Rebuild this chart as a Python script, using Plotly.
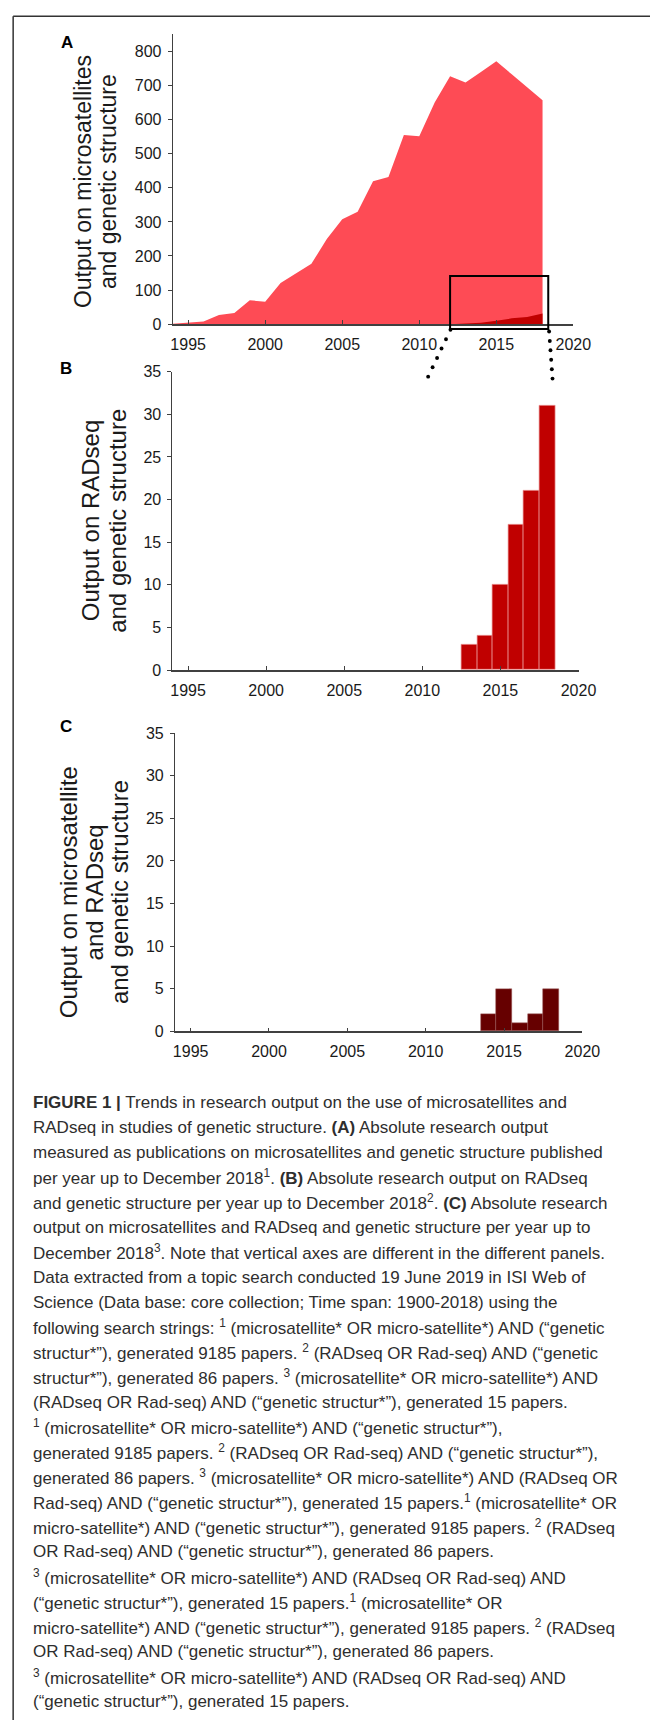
import plotly.graph_objects as go

# ---------------- data ----------------
years = list(range(1994, 2019))
microsat_output = [1, 5, 8, 27, 33, 70, 66, 121, 148, 177, 250, 308, 330,
                   419, 432, 555, 551, 650, 727, 709, 740, 771, 733, 695, 657]

rad_years = [2013, 2014, 2015, 2016, 2017, 2018]
rad_output = [3, 4, 10, 17, 21, 31]

both_years = [2014, 2015, 2016, 2017, 2018]
both_output = [2, 5, 1, 2, 5]

x_ticks = [1995, 2000, 2005, 2010, 2015, 2020]
a_yticks = [0, 100, 200, 300, 400, 500, 600, 700, 800]
bc_yticks = [0, 5, 10, 15, 20, 25, 30, 35]

caption_lines = [
    "<b>FIGURE 1 |</b> Trends in research output on the use of microsatellites and",
    "RADseq in studies of genetic structure. <b>(A)</b> Absolute research output",
    "measured as publications on microsatellites and genetic structure published",
    "per year up to December 2018<sup>1</sup>. <b>(B)</b> Absolute research output on RADseq",
    "and genetic structure per year up to December 2018<sup>2</sup>. <b>(C)</b> Absolute research",
    "output on microsatellites and RADseq and genetic structure per year up to",
    "December 2018<sup>3</sup>. Note that vertical axes are different in the different panels.",
    "Data extracted from a topic search conducted 19 June 2019 in ISI Web of",
    "Science (Data base: core collection; Time span: 1900-2018) using the",
    "following search strings: <sup>1</sup> (microsatellite* OR micro-satellite*) AND (“genetic",
    "structur*”), generated 9185 papers. <sup>2</sup> (RADseq OR Rad-seq) AND (“genetic",
    "structur*”), generated 86 papers. <sup>3</sup> (microsatellite* OR micro-satellite*) AND",
    "(RADseq OR Rad-seq) AND (“genetic structur*”), generated 15 papers.",
    "<sup>1</sup> (microsatellite* OR micro-satellite*) AND (“genetic structur*”),",
    "generated 9185 papers. <sup>2</sup> (RADseq OR Rad-seq) AND (“genetic structur*”),",
    "generated 86 papers. <sup>3</sup> (microsatellite* OR micro-satellite*) AND (RADseq OR",
    "Rad-seq) AND (“genetic structur*”), generated 15 papers.<sup>1</sup> (microsatellite* OR",
    "micro-satellite*) AND (“genetic structur*”), generated 9185 papers. <sup>2</sup> (RADseq",
    "OR Rad-seq) AND (“genetic structur*”), generated 86 papers.",
    "<sup>3</sup> (microsatellite* OR micro-satellite*) AND (RADseq OR Rad-seq) AND",
    "(“genetic structur*”), generated 15 papers.<sup>1</sup> (microsatellite* OR",
    "micro-satellite*) AND (“genetic structur*”), generated 9185 papers. <sup>2</sup> (RADseq",
    "OR Rad-seq) AND (“genetic structur*”), generated 86 papers.",
    "<sup>3</sup> (microsatellite* OR micro-satellite*) AND (RADseq OR Rad-seq) AND",
    "(“genetic structur*”), generated 15 papers.",
]

# ---------------- page geometry ----------------
W, H = 668, 1729


def xp(px):
    return px / W


def yp(py):
    return 1 - py / H


# panel boxes in page pixels: (left, right, top, bottom)
box_a = (176, 589, 26.7, 319.3)
box_b = (175.7, 594.3, 367.3, 668.7)
box_c = (178.3, 598.3, 732.3, 1033.5)
x_range = [1994, 2020]
a_range = [0, 850]
bc_range = [0, 35]

LIGHT_RED = "#FE4B55"
DARK_RED = "#C00000"
MAROON = "#660000"
AXIS = "#404040"
TEXT = "#1a1a1a"
FONT = "Liberation Sans, Arial, sans-serif"

fig = go.Figure()

# Panel A: area charts
fig.add_trace(go.Scatter(
    x=years, y=microsat_output, fill="tozeroy", mode="lines",
    line=dict(width=0, color=LIGHT_RED), fillcolor=LIGHT_RED,
    xaxis="x", yaxis="y", showlegend=False, hoverinfo="skip"))
rad_lookup = dict(zip(rad_years, rad_output))
rad_full = [rad_lookup.get(y, 0) for y in years]
fig.add_trace(go.Scatter(
    x=years[18:], y=rad_full[18:], fill="tozeroy", mode="lines",
    line=dict(width=0, color=DARK_RED), fillcolor=DARK_RED,
    xaxis="x", yaxis="y", showlegend=False, hoverinfo="skip"))

# Panel B: RADseq bars
fig.add_trace(go.Bar(
    x=rad_years, y=rad_output, width=1, marker_color=DARK_RED,
    marker_line=dict(color="#EC9A9A", width=0.7),
    xaxis="x2", yaxis="y2", showlegend=False))

# Panel C: microsatellite + RADseq bars
fig.add_trace(go.Bar(
    x=both_years, y=both_output, width=1, marker_color=MAROON,
    marker_line=dict(color="#9A5A5A", width=0.5),
    xaxis="x3", yaxis="y3", showlegend=False))


def xaxis_cfg(box):
    return dict(
        domain=[xp(box[0]), xp(box[1])], range=x_range,
        tickvals=x_ticks, ticks="inside", ticklen=4, tickwidth=1,
        tickcolor=AXIS, showline=True, linecolor=AXIS, linewidth=1.6,
        showgrid=False, zeroline=False, ticklabelstandoff=5,
        tickfont=dict(family=FONT, size=16, color=TEXT), fixedrange=True)


def yaxis_cfg(box, rng, vals, anchor):
    return dict(
        domain=[yp(box[3]), yp(box[2])], range=rng, anchor=anchor,
        tickvals=vals, ticks="outside", ticklen=4, tickwidth=1,
        tickcolor=AXIS, showline=True, linecolor=AXIS, linewidth=1,
        showgrid=False, zeroline=False, ticklabelstandoff=3,
        tickfont=dict(family=FONT, size=16, color=TEXT), fixedrange=True)


layout = dict(
    width=W, height=H, autosize=False,
    margin=dict(l=0, r=0, t=0, b=0),
    paper_bgcolor="white", plot_bgcolor="rgba(0,0,0,0)",
    bargap=0, barmode="overlay",
    xaxis=dict(xaxis_cfg(box_a), anchor="y"),
    yaxis=yaxis_cfg(box_a, a_range, a_yticks, "x"),
    xaxis2=dict(xaxis_cfg(box_b), anchor="y2"),
    yaxis2=yaxis_cfg(box_b, bc_range, bc_yticks, "x2"),
    xaxis3=dict(xaxis_cfg(box_c), anchor="y3"),
    yaxis3=yaxis_cfg(box_c, bc_range, bc_yticks, "x3"),
)
fig.update_layout(**layout)

annotations = []
shapes = []

# panel letters
for letter, (px, py) in {"A": (66.7, 35), "B": (66, 364), "C": (66, 726)}.items():
    annotations.append(dict(
        text=f"<b>{letter}</b>", x=xp(px), y=yp(py), xref="paper", yref="paper",
        xanchor="center", yanchor="middle", showarrow=False,
        font=dict(family=FONT, size=17, color="black")))

# rotated y-axis titles, one annotation per line
titles = [
    (["Output on microsatellites", "and genetic structure"], [83.3, 110], 175, 23),
    (["Output on RADseq", "and genetic structure"], [92, 119.5], 518, 24),
    (["Output on microsatellite", "and RADseq", "and genetic structure"],
     [68, 95, 120.5], 893, 24),
]
for lines, xs, yc, size in titles:
    for line, lx in zip(lines, xs):
        annotations.append(dict(
            text=line, x=xp(lx), y=yp(yc), xref="paper", yref="paper",
            xanchor="center", yanchor="middle", textangle=-90, showarrow=False,
            font=dict(family=FONT, size=size, color=TEXT)))


# zoom box on panel A (data coordinates mapped into page pixels)
def a_px(year, value):
    left, right, top, bottom = box_a
    px = left + (year - x_range[0]) * (right - left) / (x_range[1] - x_range[0])
    py = bottom - (value - a_range[0]) * (bottom - top) / (a_range[1] - a_range[0])
    return px, py


bx0, by0 = a_px(2012, 141)
bx1, by1 = a_px(2018.37, -14.5)
shapes.append(dict(type="rect", xref="paper", yref="paper",
                   x0=xp(bx0), x1=xp(bx1), y0=yp(by1), y1=yp(by0),
                   line=dict(color="black", width=2), fillcolor="rgba(0,0,0,0)"))

# dotted connectors from the zoom box down towards panel B
connectors = [((462.3, 325.0), (439.3, 372.3)), ((564.0, 326.7), (567.5, 374.3))]
n_dots = 6
r = 2.0
for (sx, sy), (ex, ey) in connectors:
    for i in range(n_dots):
        t = i / (n_dots - 1)
        cx = sx + (ex - sx) * t
        cy = sy + (ey - sy) * t
        shapes.append(dict(type="circle", xref="paper", yref="paper",
                           x0=xp(cx - r), x1=xp(cx + r), y0=yp(cy + r), y1=yp(cy - r),
                           fillcolor="black", line=dict(width=0)))

# page frame (top and left rules)
shapes.append(dict(type="line", xref="paper", yref="paper",
                   x0=xp(11.5), x1=1, y0=yp(8.3), y1=yp(8.3),
                   line=dict(color="#333333", width=1.5)))
shapes.append(dict(type="line", xref="paper", yref="paper",
                   x0=xp(11.5), x1=xp(11.5), y0=yp(8.3), y1=0,
                   line=dict(color="#333333", width=1.5)))

# caption
cap_top = 1105
cap_step = 25.24
for i, line in enumerate(caption_lines):
    annotations.append(dict(
        text=line, x=xp(30), y=yp(cap_top + i * cap_step), xref="paper", yref="paper",
        xanchor="left", yanchor="middle", showarrow=False, align="left",
        font=dict(family=FONT, size=17, color="#2e2e2e")))

fig.update_layout(annotations=annotations, shapes=shapes)

fig.write_html("out.html", config={"displayModeBar": False},
               post_script="document.body.style.margin='0';")
